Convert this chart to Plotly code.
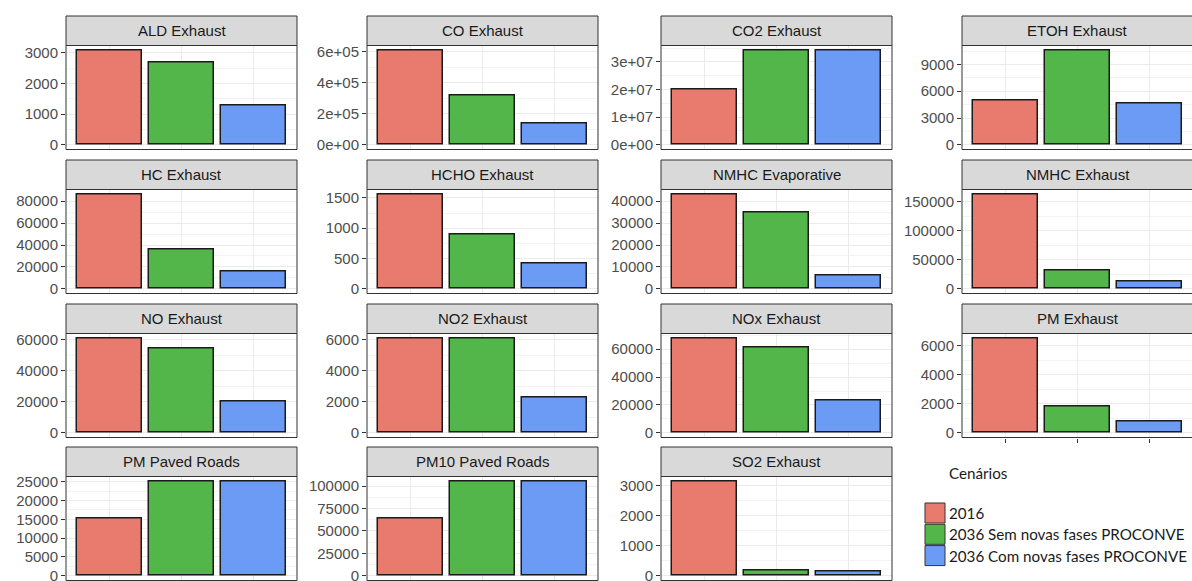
import plotly.graph_objects as go

# ---- data -------------------------------------------------------------
pollutants = [
    "ALD Exhaust", "CO Exhaust", "CO2 Exhaust", "ETOH Exhaust",
    "HC Exhaust", "HCHO Exhaust", "NMHC Evaporative", "NMHC Exhaust",
    "NO Exhaust", "NO2 Exhaust", "NOx Exhaust", "PM Exhaust",
    "PM Paved Roads", "PM10 Paved Roads", "SO2 Exhaust",
]
scenarios = ["2016", "2036 Sem novas fases PROCONVE", "2036 Com novas fases PROCONVE"]

emis_2016 = [3084, 610000, 19900000, 4907, 86400, 1561, 43200, 163300,
             61040, 6100, 67900, 6500, 15190, 63700, 3150]
emis_2036_sem = [2685, 321000, 34200000, 10595, 35700, 899, 34960, 31700,
                 54350, 6100, 61400, 1779, 25100, 105500, 160]
emis_2036_com = [1289, 139000, 34200000, 4572, 15850, 424, 6230, 12640,
                 19930, 2300, 23000, 780, 25100, 105500, 150]

y_ticks = [
    [0, 1000, 2000, 3000],
    [0, 200000, 400000, 600000],
    [0, 10000000, 20000000, 30000000],
    [0, 3000, 6000, 9000],
    [0, 20000, 40000, 60000, 80000],
    [0, 500, 1000, 1500],
    [0, 10000, 20000, 30000, 40000],
    [0, 50000, 100000, 150000],
    [0, 20000, 40000, 60000],
    [0, 2000, 4000, 6000],
    [0, 20000, 40000, 60000],
    [0, 2000, 4000, 6000],
    [0, 5000, 10000, 15000, 20000, 25000],
    [0, 25000, 50000, 75000, 100000],
    [0, 1000, 2000, 3000],
]
y_tick_text = [
    ["0", "1000", "2000", "3000"],
    ["0e+00", "2e+05", "4e+05", "6e+05"],
    ["0e+00", "1e+07", "2e+07", "3e+07"],
    ["0", "3000", "6000", "9000"],
    ["0", "20000", "40000", "60000", "80000"],
    ["0", "500", "1000", "1500"],
    ["0", "10000", "20000", "30000", "40000"],
    ["0", "50000", "100000", "150000"],
    ["0", "20000", "40000", "60000"],
    ["0", "2000", "4000", "6000"],
    ["0", "20000", "40000", "60000"],
    ["0", "2000", "4000", "6000"],
    ["0", "5000", "10000", "15000", "20000", "25000"],
    ["0", "25000", "50000", "75000", "100000"],
    ["0", "1000", "2000", "3000"],
]

series = [emis_2016, emis_2036_sem, emis_2036_com]
fills = ["#E97A6E", "#53B64A", "#6C9BF6"]

# ---- facet geometry (pixels) ---------------------------------------------
W, H = 1192, 581
col_left = [66, 367, 661, 962]
panel_w = 231
strip_top = [16, 160, 304, 447]
strip_h = 29.5
panel_h = 104
ncol = 4

def px(x):
    return x / W

def py(y):
    return 1 - y / H

fig = go.Figure()
shapes = []
annotations = []
layout_axes = {}

for i, name in enumerate(pollutants):
    r, c = divmod(i, ncol)
    n = "" if i == 0 else str(i + 1)
    left = col_left[c]
    right_true = left + panel_w
    right = min(right_true, W)
    s_top = strip_top[r]
    p_top = s_top + strip_h
    p_bot_true = p_top + panel_h
    p_bot = min(p_bot_true, H)

    vals = [s[i] for s in series]
    vmax = max(vals)

    for k, scen in enumerate(scenarios):
        fig.add_trace(go.Bar(
            x=[scen], y=[series[k][i]],
            xaxis="x" + n, yaxis="y" + n,
            width=0.9,
            marker=dict(color=fills[k], line=dict(color="#1A1A1A", width=1.5)),
            showlegend=False, hoverinfo="skip",
        ))

    # discrete x range, cropped when the panel runs past the page edge
    x_hi = -0.6 + 3.2 * (right - left) / panel_w
    bottom_of_column = (i + ncol >= len(pollutants))
    layout_axes["xaxis" + n] = dict(
        domain=[px(left), px(right)], anchor="y" + n,
        type="category", categoryorder="array", categoryarray=scenarios,
        range=[-0.6, x_hi], automargin=False,
        showgrid=True, gridcolor="#EBEBEB", gridwidth=1,
        showticklabels=False, zeroline=False, showline=False,
        ticks="outside" if (bottom_of_column and p_bot_true <= H) else "", ticklen=4,
        tickcolor="#333333", tickwidth=1, fixedrange=True,
    )

    # y range with 5% padding, cropped when the panel runs past the page bottom
    y_lo, y_hi = -0.05 * vmax, 1.05 * vmax
    y_lo += (p_bot_true - p_bot) / panel_h * (y_hi - y_lo)

    tv = y_ticks[i]
    minor_vals = [(a + b) / 2 for a, b in zip(tv[:-1], tv[1:])]
    step = tv[1] - tv[0]
    if tv[-1] + step / 2 <= y_hi:
        minor_vals.append(tv[-1] + step / 2)
    layout_axes["yaxis" + n] = dict(
        domain=[py(p_bot), py(p_top)], anchor="x" + n,
        range=[y_lo, y_hi], automargin=False, ticklabeloverflow="allow",
        tickmode="array", tickvals=tv, ticktext=y_tick_text[i],
        ticks="outside", ticklen=4, tickcolor="#333333", tickwidth=1,
        tickfont=dict(family="Liberation Sans, Arial, sans-serif", size=15, color="#4D4D4D"),
        showgrid=True, gridcolor="#EBEBEB", gridwidth=1,
        minor=dict(tickmode="array", tickvals=minor_vals, showgrid=True,
                   gridcolor="#F3F3F3", gridwidth=0.8, ticks=""),
        zeroline=False, showline=False, fixedrange=True,
    )

    # strip header
    shapes.append(dict(type="rect", xref="paper", yref="paper",
                       x0=px(left), x1=px(right_true), y0=py(p_top), y1=py(s_top),
                       fillcolor="#D9D9D9", line=dict(color="#333333", width=1), layer="above"))
    # panel border
    shapes.append(dict(type="rect", xref="paper", yref="paper",
                       x0=px(left), x1=px(right_true), y0=py(p_bot_true), y1=py(p_top),
                       fillcolor="rgba(0,0,0,0)", line=dict(color="#333333", width=1), layer="above"))
    annotations.append(dict(
        text=name, xref="paper", yref="paper",
        x=px(left + panel_w / 2), y=py(s_top + strip_h / 2),
        xanchor="center", yanchor="middle", showarrow=False,
        font=dict(family="Liberation Sans, Arial, sans-serif", size=15, color="#1A1A1A"),
    ))

# ---- legend ------------------------------------------------------------
leg_x, leg_title_y = 925, 473
key_top0, key_w, key_h, key_step = 503, 20, 20, 21.3
legend_font = dict(family="Lato, Open Sans, sans-serif", size=15.2, color="#1A1A1A")
annotations.append(dict(
    text="Cenários", xref="paper", yref="paper", x=px(947), y=py(leg_title_y),
    xanchor="left", yanchor="middle", showarrow=False, font=legend_font,
))
for k, scen in enumerate(scenarios):
    kt = key_top0 + k * key_step
    shapes.append(dict(type="rect", xref="paper", yref="paper",
                       x0=px(leg_x), x1=px(leg_x + key_w), y0=py(kt + key_h), y1=py(kt),
                       fillcolor=fills[k], line=dict(color="#333333", width=1)))
    annotations.append(dict(
        text=scen, xref="paper", yref="paper", x=px(947), y=py(kt + key_h / 2),
        xanchor="left", yanchor="middle", showarrow=False, font=legend_font,
    ))

fig.update_layout(
    width=W, height=H,
    margin=dict(l=0, r=0, t=0, b=0, autoexpand=False),
    paper_bgcolor="white", plot_bgcolor="white",
    barmode="group", bargap=0,
    shapes=shapes, annotations=annotations,
    showlegend=False,
    **layout_axes,
)

fig.write_html("out.html", config={"displayModeBar": False})
